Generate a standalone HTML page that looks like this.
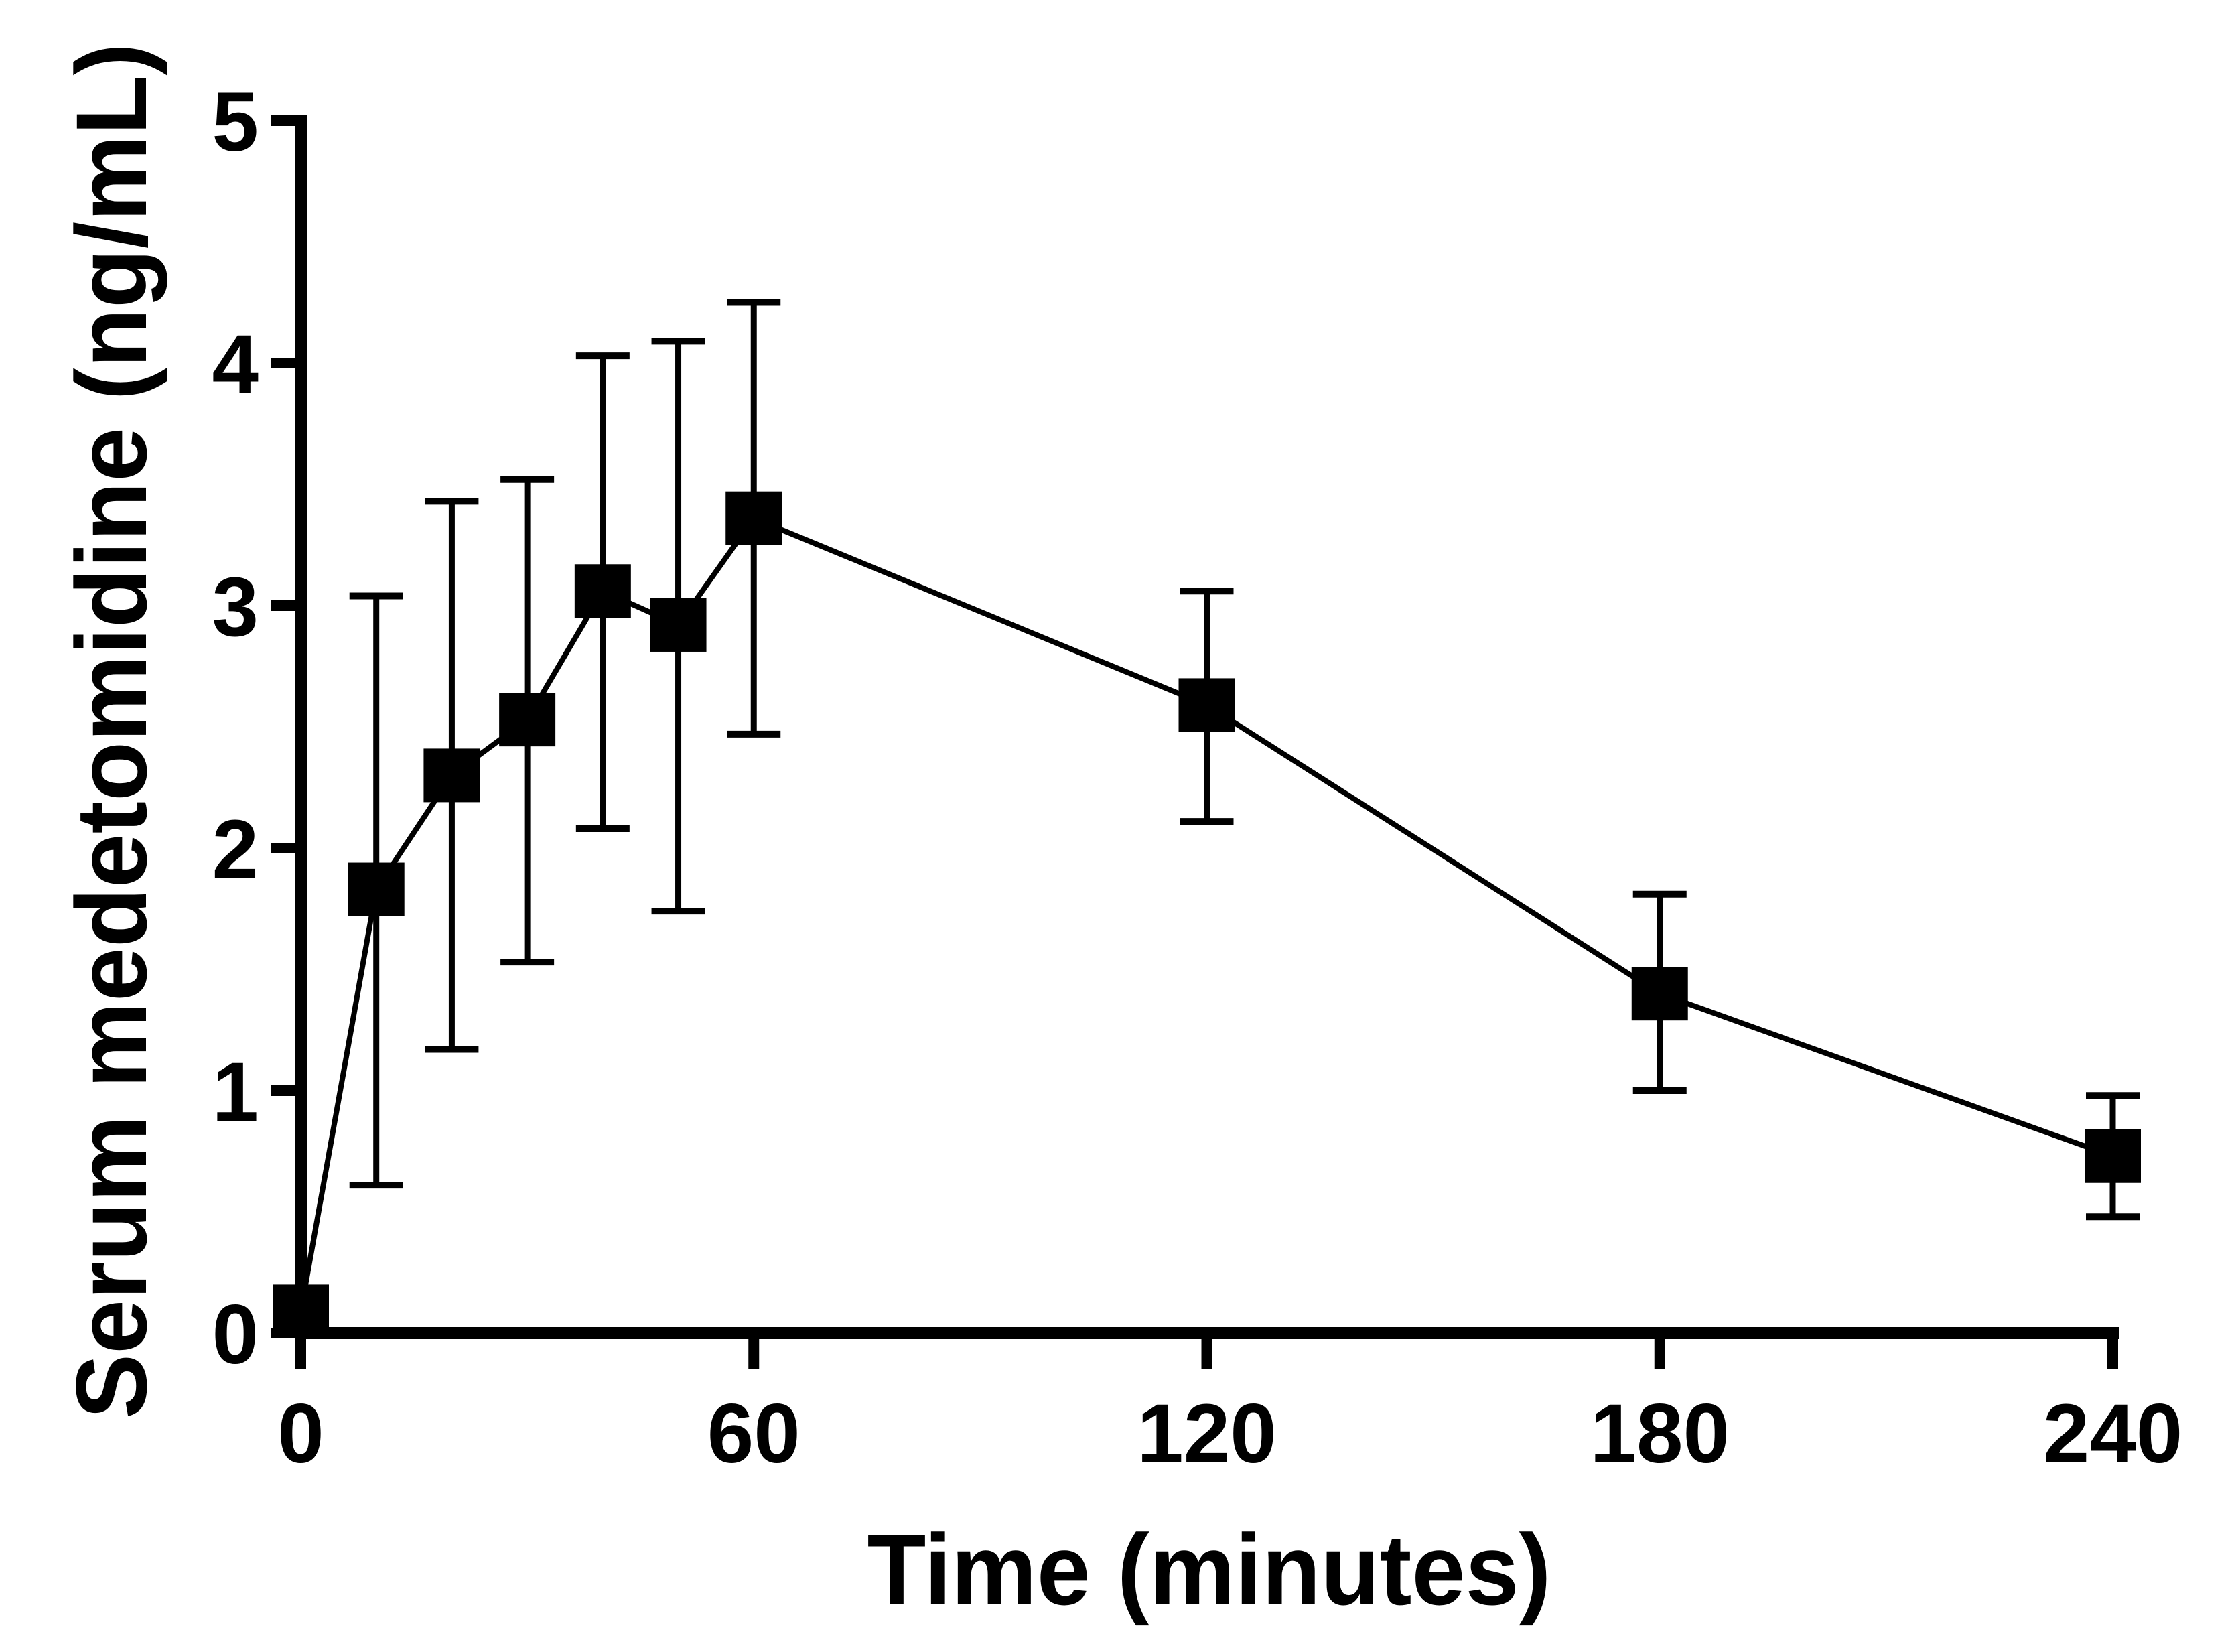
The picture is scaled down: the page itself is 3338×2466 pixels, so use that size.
<!DOCTYPE html>
<html><head><meta charset="utf-8"><style>html,body{margin:0;padding:0;background:#fff}svg{display:block}</style></head>
<body>
<svg id="chart" width="3338" height="2466" viewBox="0 0 3338 2466" xmlns="http://www.w3.org/2000/svg" font-family="Liberation Sans, Arial, sans-serif" font-weight="bold">
<rect width="3338" height="2466" fill="#fff"/>
<g id="axes"></g>
<g id="series"></g>
<text x="1805" y="2395" font-size="150" text-anchor="middle" textLength="1021" lengthAdjust="spacingAndGlyphs">Time (minutes)</text>
<text transform="translate(218,1091) rotate(-90)" font-size="150" text-anchor="middle" textLength="2054" lengthAdjust="spacingAndGlyphs">Serum medetomidine (ng/mL)</text>
</svg>
<script>
const times=[0,10,20,30,40,50,60,120,180,240];
const means=[0.09,1.83,2.3,2.53,3.06,2.92,3.36,2.59,1.4,0.73];
const lows=[0.09,0.61,1.17,1.53,2.08,1.74,2.47,2.11,1.0,0.48];
const highs=[0.09,3.04,3.43,3.52,4.03,4.09,4.25,3.06,1.81,0.98];
const xTicks=[0,60,120,180,240];
const yTicks=[0,1,2,3,4,5];
const NS='http://www.w3.org/2000/svg';
const X0=449,X1=3154,Y0=1990,Y1=180;
function sx(v){return X0+(v-0)/(240-0)*(X1-X0);}
function sy(v){return Y0-(v-0)/(5-0)*(Y0-Y1);}
function mk(tag,attrs,parent){const e=document.createElementNS(NS,tag);for(const k in attrs)e.setAttribute(k,attrs[k]);parent.appendChild(e);return e;}
const axes=document.getElementById('axes'),ser=document.getElementById('series');
let a=mk('line',{x1:X0,y1:Y1-9,x2:X0,y2:Y0+9,stroke:'#000','stroke-width':18},axes);

a=mk('line',{x1:X0-9,y1:Y0,x2:X1+9,y2:Y0,stroke:'#000','stroke-width':18},axes);

yTicks.forEach(v=>{
 const t=mk('line',{x1:X0-44,y1:sy(v),x2:X0,y2:sy(v),stroke:'#000','stroke-width':16},axes);
 
 const l=mk('text',{x:386,y:sy(v)+45,'font-size':125,'text-anchor':'end'},axes);
 
 l.textContent=v;
});
xTicks.forEach(v=>{
 const t=mk('line',{x1:sx(v),y1:Y0,x2:sx(v),y2:Y0+54,stroke:'#000','stroke-width':16},axes);
 
 const l=mk('text',{x:sx(v),y:2183,'font-size':125,'text-anchor':'middle'},axes);
 
 l.textContent=v;
});
const pts=times.map((t,i)=>sx(t)+','+sy(means[i])).join(' ');
const pl=mk('polyline',{points:pts,fill:'none',stroke:'#000','stroke-width':8},ser);

times.forEach((t,i)=>{
 const x=sx(t);
 if(highs[i]!==lows[i]){
  const g=mk('g',{},ser);
  
  mk('line',{x1:x,y1:sy(highs[i]),x2:x,y2:sy(lows[i]),stroke:'#000','stroke-width':9},g);
  mk('line',{x1:x-40,y1:sy(highs[i]),x2:x+40,y2:sy(highs[i]),stroke:'#000','stroke-width':10},g);
  mk('line',{x1:x-40,y1:sy(lows[i]),x2:x+40,y2:sy(lows[i]),stroke:'#000','stroke-width':10},g);
 }
 const r=mk('rect',{x:x-42,y:sy(means[i])-40,width:84,height:80,fill:'#000'},ser);
 
});
</script>
</body></html>
